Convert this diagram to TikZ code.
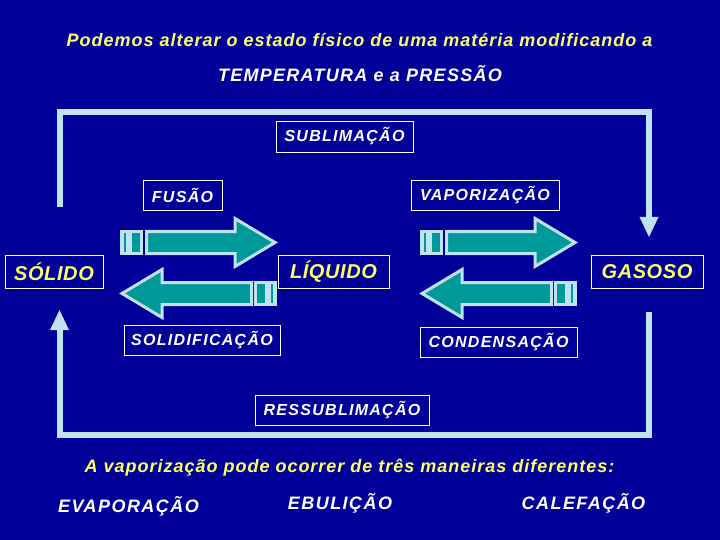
\documentclass[tikz,border=0pt]{standalone}
\usepackage{fontspec}
\setmainfont{Liberation Sans}
\newfontfamily\spA[LetterSpace=5.5]{Liberation Sans}
\newfontfamily\spB[LetterSpace=8]{Liberation Sans}
\newfontfamily\spC[LetterSpace=3]{Liberation Sans}
\newfontfamily\spD[LetterSpace=7]{Liberation Sans}
\definecolor{navy}{RGB}{0,0,153}
\definecolor{lightb}{RGB}{190,226,240}
\definecolor{tealf}{RGB}{0,153,153}
\definecolor{yel}{RGB}{255,255,102}
\tikzset{
  lbl/.style={draw=white, line width=0.9pt, text=white, inner sep=0pt, font=\spB\fontsize{16}{18}\selectfont\bfseries\itshape},
  state/.style={draw=white, line width=0.9pt, text=yel, inner sep=0pt, font=\spC\fontsize{20}{22}\selectfont\bfseries\itshape},
  ytxt/.style={text=yel, inner sep=0pt, font=\spA\fontsize{18}{20}\selectfont\bfseries\itshape},
  wtxt/.style={text=white, inner sep=0pt, font=\spB\fontsize{18}{20}\selectfont\bfseries\itshape},
  wtxtd/.style={text=white, inner sep=0pt, font=\spD\fontsize{18}{20}\selectfont\bfseries\itshape},
  loopline/.style={draw=lightb, line width=6pt},
  headfill/.style={fill=lightb},
  barrow/.style={draw=lightb, line width=3pt, fill=tealf, line join=miter},
}
\begin{document}
\begin{tikzpicture}[x=1pt,y=-1pt]
\fill[navy] (0,0) rectangle (720,540);
\useasboundingbox (0,0) rectangle (720,540);

% title
\node[ytxt] (t1) at (359.5,40) {Podemos alterar o estado físico de uma matéria modificando a};
\node[wtxtd] (t2) at (360,74) {TEMPERATURA e a PRESSÃO};

% loops
\coordinate (la) at (59.5,207);
\coordinate (lb) at (649,218);
\draw[loopline] (la) |- (649,112.5) -- (lb);
\fill[headfill] (639.5,217) -- (658.5,217) -- (649,237) -- cycle;
\coordinate (lc) at (649,312);
\coordinate (ld) at (59.5,329);
\draw[loopline] (lc) |- (59.5,435) -- (ld);
\fill[headfill] (50,330) -- (69,330) -- (59.5,310) -- cycle;

% block arrows
\foreach \xo in {0,300}{
  \begin{scope}[xshift=\xo]
  % right arrow
  \fill[lightb] (120,230) rectangle (143,255);
  \fill[tealf] (124,233) rectangle (126,252);
  \fill[tealf] (132,233) rectangle (140,252);
  \draw[barrow] (146.5,231.5) -- (235,231.5) -- (235,218.5) -- (275,242.5) -- (235,266.5) -- (235,253.5) -- (146.5,253.5) -- cycle;
  % left arrow
  \fill[lightb] (254,281) rectangle (277,306);
  \fill[tealf] (271,284) rectangle (273,303);
  \fill[tealf] (257,284) rectangle (265,303);
  \draw[barrow] (251.5,282.5) -- (162,282.5) -- (162,269.5) -- (122,293.5) -- (162,317.5) -- (162,304.5) -- (251.5,304.5) -- cycle;
  \end{scope}
}

% labels
\node[lbl, minimum width=137pt, minimum height=31pt] (sub) at (344.5,136.5) {SUBLIMAÇÃO};
\node[lbl, minimum width=79pt, minimum height=30pt] (fus) at (182.5,195) {FUSÃO};
\node[lbl, minimum width=148pt, minimum height=30pt] (vap) at (485,195) {VAPORIZAÇÃO};
\node[state, minimum width=98pt, minimum height=33pt] (sol) at (54,271.5) {SÓLIDO};
\node[state, fill=navy, minimum width=111pt, minimum height=33pt] (liq) at (333.5,271.5) {LÍQUIDO};
\node[state, minimum width=112pt, minimum height=33pt] (gas) at (647,271.5) {GASOSO};
\node[lbl, minimum width=156pt, minimum height=30pt] (soli) at (202,340) {SOLIDIFICAÇÃO};
\node[lbl, minimum width=157pt, minimum height=30pt] (cond) at (498.5,342) {CONDENSAÇÃO};
\node[lbl, minimum width=174pt, minimum height=30pt] (ress) at (342,410) {RESSUBLIMAÇÃO};

% bottom
\node[ytxt] (b1) at (349.5,468) {A vaporização pode ocorrer de três maneiras diferentes:};
\node[wtxt] (e1) at (128.5,506) {EVAPORAÇÃO};
\node[wtxt] (e2) at (340,503) {EBULIÇÃO};
\node[wtxt] (e3) at (583.5,503) {CALEFAÇÃO};
\end{tikzpicture}
\end{document}
